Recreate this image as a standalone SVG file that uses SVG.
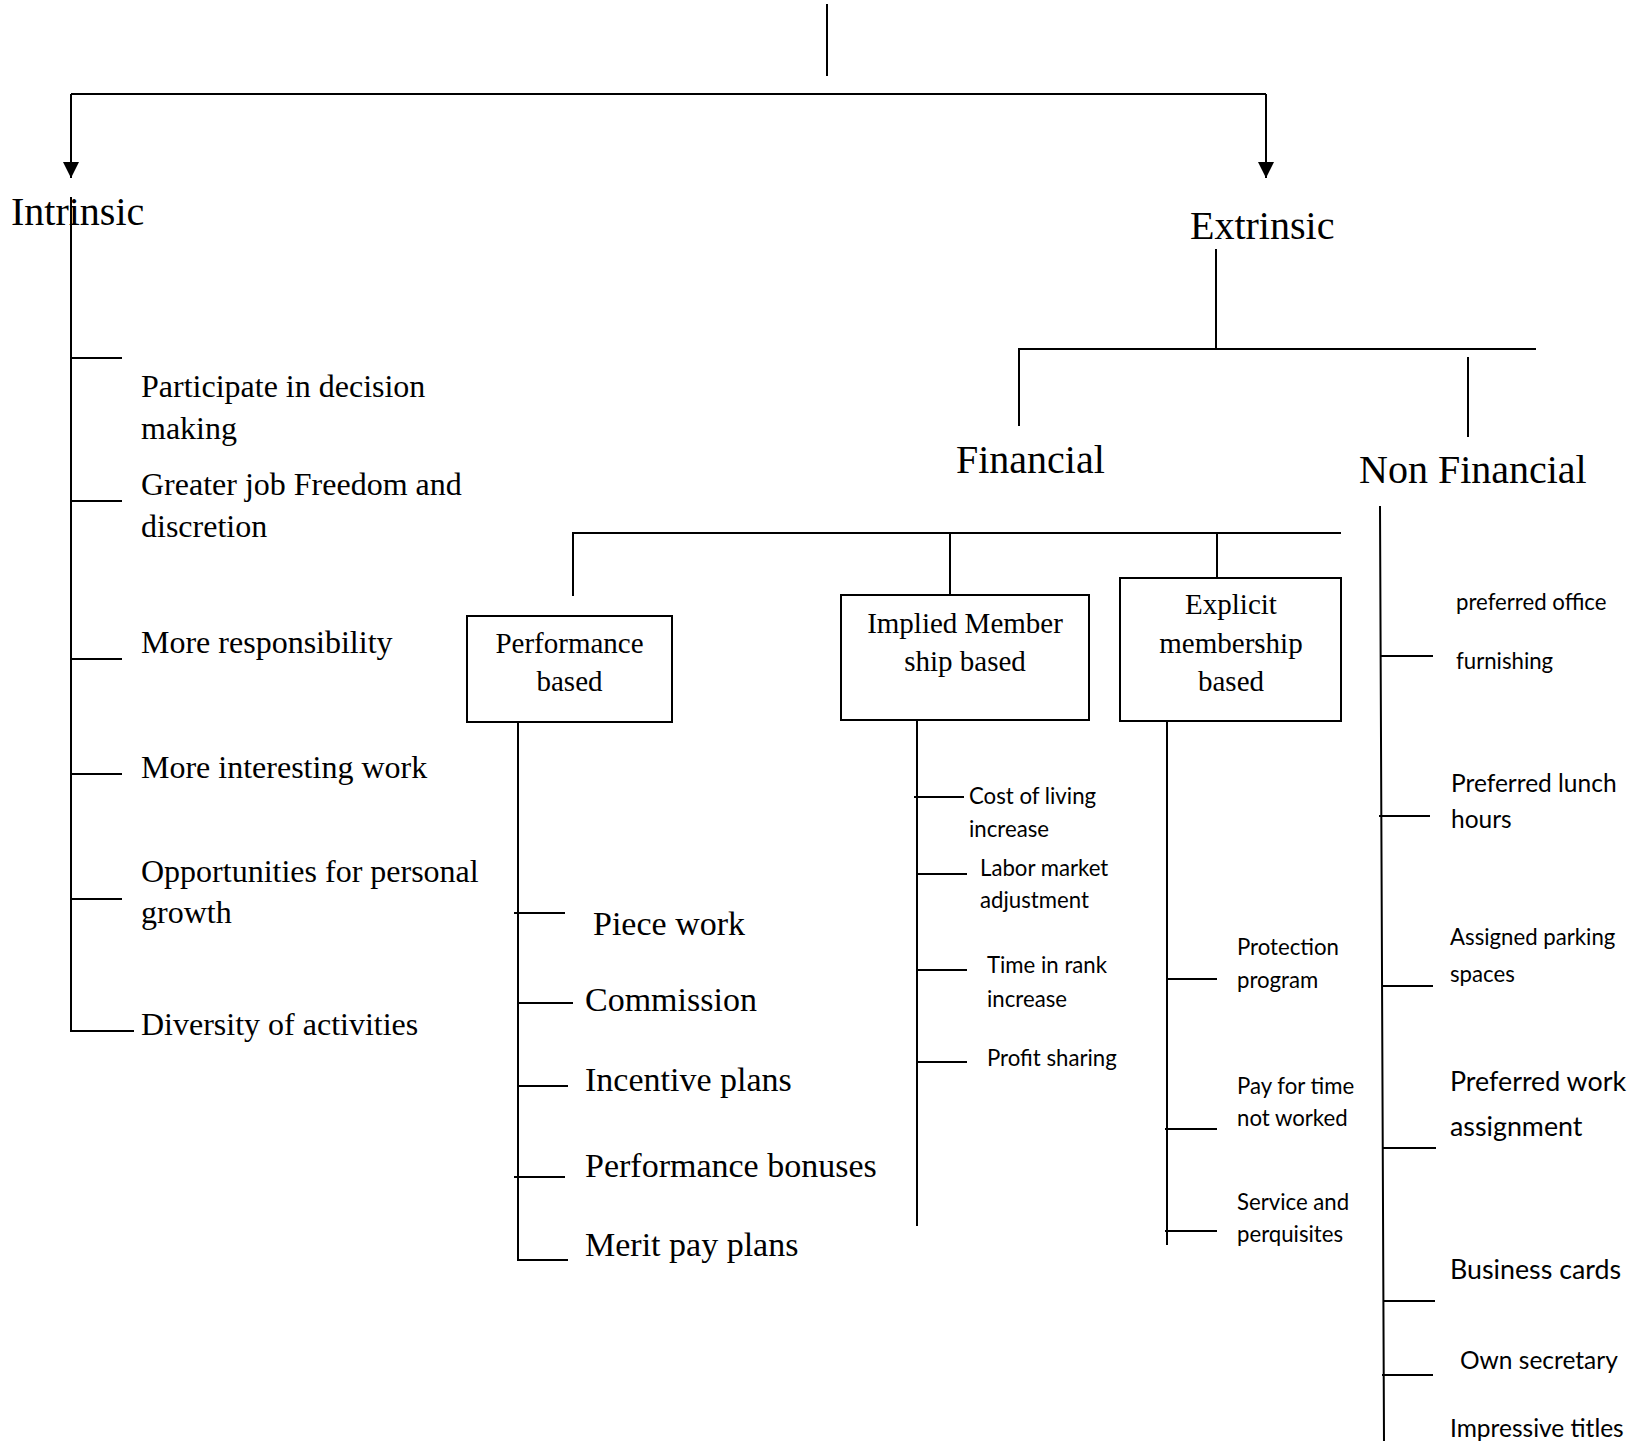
<svg xmlns="http://www.w3.org/2000/svg" width="1632" height="1441" viewBox="0 0 1632 1441">
<style>
.ln{stroke:#000;stroke-width:2;fill:none}
.bx{stroke:#000;stroke-width:2;fill:#fff}
.serif{font-family:"Liberation Serif","Times New Roman",serif;fill:#000}
.big{font-size:40px}
.mid{font-size:32px}
.pf{font-size:34px}
.box{font-size:29px;text-anchor:middle}
.sans{font-family:Lato,"Open Sans",sans-serif;fill:#000}
.s24{font-size:22.2px}
.s26{font-size:24.5px}
.s29{font-size:26.8px}
</style>
<defs>
<marker id="arr" markerUnits="userSpaceOnUse" markerWidth="16" markerHeight="16" viewBox="0 0 16 16" refX="16" refY="8" orient="auto">
<path d="M0,0 L16,8 L0,16 z" fill="#000"/>
</marker>
</defs>
<rect width="1632" height="1441" fill="#fff"/>
<g id="connectors">
<path class="ln" d="M827 4 V76"/>
<path class="ln" d="M71 94 H1266"/>
<path class="ln" d="M71 94 V178" marker-end="url(#arr)"/>
<path class="ln" d="M1266 94 V178" marker-end="url(#arr)"/>
<path class="ln" d="M71 197 V1031 H134"/>
<path class="ln" d="M70 358 H122 M70 501 H122 M70 659 H122 M70 774 H122 M70 899 H122"/>
<path class="ln" d="M1216 249 V349 M1019 426 V349 H1536 M1468 357 V437"/>
<path class="ln" d="M573 596 V533 H1341 M950 533 V595 M1217 533 V578"/>
<path class="ln" d="M518 722 V1260 H568 M514 913 H565 M518 1003 H573 M518 1086 H568 M514 1177 H565"/>
<path class="ln" d="M917 720 V1226 M914 797 H964 M917 874 H967 M917 970 H967 M917 1062 H967"/>
<path class="ln" d="M1167 721 V1245 M1167 979 H1217 M1165 1129 H1217 M1165 1231 H1217"/>
<path class="ln" d="M1380 506 L1384 1441 M1380 656 H1433 M1379 816 H1430 M1382 986 H1433 M1383 1148 H1436 M1384 1301 H1435 M1382 1375 H1433"/>
</g>
<g id="intrinsic"><text class="serif big" x="11" y="225">Intrinsic</text></g>
<g id="extrinsic"><text class="serif big" x="1190" y="239">Extrinsic</text></g>
<g id="financial"><text class="serif big" x="956" y="473">Financial</text></g>
<g id="non-financial"><text class="serif big" x="1359" y="483">Non Financial</text></g>
<g id="intrinsic-items" class="serif mid">
<text x="141" y="397">Participate in decision</text>
<text x="141" y="439">making</text>
<text x="141" y="495">Greater job Freedom and</text>
<text x="141" y="537">discretion</text>
<text x="141" y="653">More responsibility</text>
<text x="141" y="778">More interesting work</text>
<text x="141" y="882">Opportunities for personal</text>
<text x="141" y="923">growth</text>
<text x="141" y="1035">Diversity of activities</text>
</g>
<g id="performance-based">
<rect class="bx" x="467" y="616" width="205" height="106"/>
<text class="serif box" x="569.5" y="653">Performance</text>
<text class="serif box" x="569.5" y="691">based</text>
</g>
<g id="implied-membership">
<rect class="bx" x="841" y="595" width="248" height="125"/>
<text class="serif box" x="965" y="633">Implied Member</text>
<text class="serif box" x="965" y="671">ship based</text>
</g>
<g id="explicit-membership">
<rect class="bx" x="1120" y="578" width="221" height="143"/>
<text class="serif box" x="1231" y="614">Explicit</text>
<text class="serif box" x="1231" y="653">membership</text>
<text class="serif box" x="1231" y="691">based</text>
</g>
<g id="performance-items" class="serif pf">
<text x="593" y="935">Piece work</text>
<text x="585" y="1011">Commission</text>
<text x="585" y="1091">Incentive plans</text>
<text x="585" y="1177">Performance bonuses</text>
<text x="585" y="1256">Merit pay plans</text>
</g>
<g id="implied-items" class="sans s24">
<text x="969" y="804">Cost of living</text>
<text x="969" y="837">increase</text>
<text x="980" y="876">Labor market</text>
<text x="980" y="908">adjustment</text>
<text x="987" y="973">Time in rank</text>
<text x="987" y="1007">increase</text>
<text x="987" y="1066">Profit sharing</text>
</g>
<g id="explicit-items" class="sans s24">
<text x="1237" y="955">Protection</text>
<text x="1237" y="988">program</text>
<text x="1237" y="1094">Pay for time</text>
<text x="1237" y="1126">not worked</text>
<text x="1237" y="1210">Service and</text>
<text x="1237" y="1242">perquisites</text>
</g>
<g id="non-financial-items" class="sans">
<text class="s24" x="1456" y="610">preferred office</text>
<text class="s24" x="1456" y="669">furnishing</text>
<text class="s26" x="1451" y="792">Preferred lunch</text>
<text class="s26" x="1451" y="828">hours</text>
<text class="s24" x="1450" y="945">Assigned parking</text>
<text class="s24" x="1450" y="982">spaces</text>
<text class="s29" x="1450" y="1091">Preferred work</text>
<text class="s29" x="1450" y="1136">assignment</text>
<text class="s29" x="1450" y="1279">Business cards</text>
<text class="s26" x="1460" y="1369">Own secretary</text>
<text class="s26" x="1450" y="1437">Impressive titles</text>
</g>
</svg>
